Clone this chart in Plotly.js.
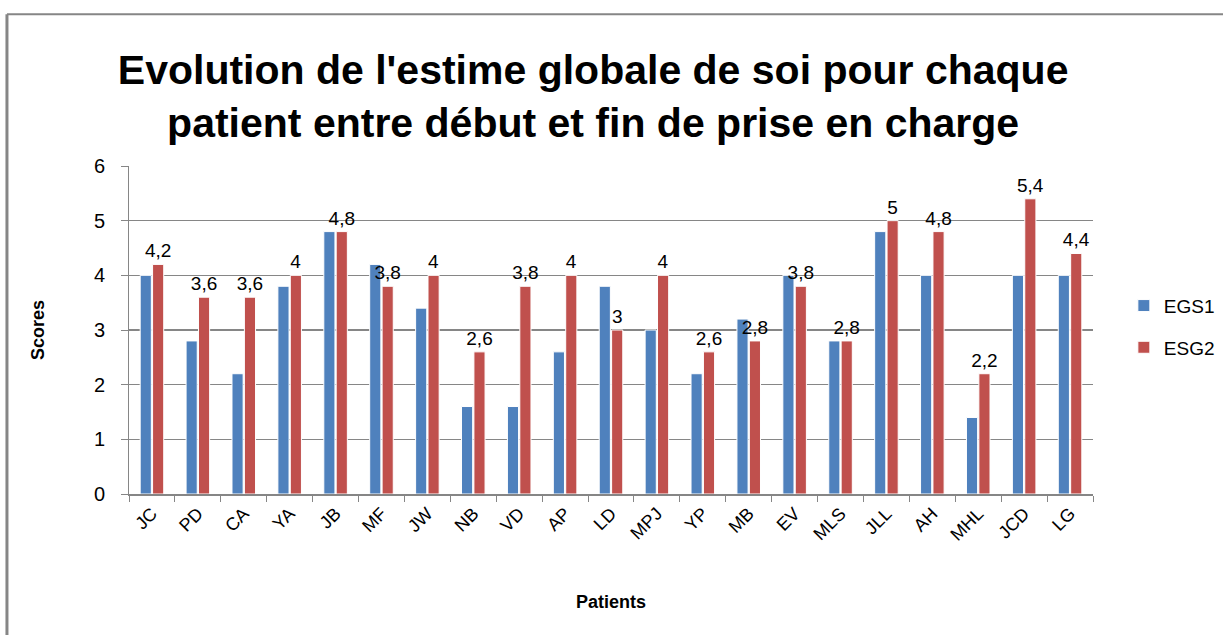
<!DOCTYPE html>
<html>
<head>
<meta charset="utf-8">
<script src="https://cdn.plot.ly/plotly-3.0.1.min.js"></script>
<style>html,body{margin:0;padding:0;background:#fff;}#chart{width:1223px;height:635px;}</style>
</head>
<body>
<div id="chart"></div>
<script>
const patients = ["JC","PD","CA","YA","JB","MF","JW","NB","VD","AP","LD","MPJ","YP","MB","EV","MLS","JLL","AH","MHL","JCD","LG"];
const egs1 = [4, 2.8, 2.2, 3.8, 4.8, 4.2, 3.4, 1.6, 1.6, 2.6, 3.8, 3, 2.2, 3.2, 4, 2.8, 4.8, 4, 1.4, 4, 4];
const esg2 = [4.2, 3.6, 3.6, 4, 4.8, 3.8, 4, 2.6, 3.8, 4, 3, 4, 2.6, 2.8, 3.8, 2.8, 5, 4.8, 2.2, 5.4, 4.4];
const seriesNames = ["EGS1", "ESG2"];
const yTicks = [0,1,2,3,4,5,6];

const FONT = "Liberation Sans, Arial, sans-serif";

const traces = [
  {
    type: "bar", name: seriesNames[0], x: patients, y: egs1,
    marker: {color: "#4F81BD", line: {color: "#ffffff", width: 1}},
    legendgroup: "a", hoverinfo: "x+y"
  },
  {
    type: "bar", name: seriesNames[1], x: patients, y: esg2,
    marker: {color: "#C0504D", line: {color: "#ffffff", width: 1}},
    text: esg2.map(v => String(v).replace(".", ",")),
    textposition: "outside", cliponaxis: false, constraintext: "none",
    textfont: {family: FONT, size: 19, color: "#000"},
    legendgroup: "b", hoverinfo: "x+y"
  }
];

const layout = {
  width: 1223, height: 635,
  margin: {l: 129, r: 130, t: 166, b: 141, pad: 0, autoexpand: false},
  paper_bgcolor: "#fff", plot_bgcolor: "#fff",
  font: {family: FONT, color: "#000"},
  title: {
    text: "Evolution de l'estime globale de soi pour chaque<br>patient entre début et fin de prise en charge",
    font: {family: FONT, size: 41, weight: "bold", color: "#000"},
    x: 0.485, xref: "container", xanchor: "center",
    y: 0.868, yref: "container", yanchor: "middle"
  },
  barmode: "group", bargap: 0.46, bargroupgap: 0.1,
  xaxis: {
    type: "category",
    tickangle: -45,
    tickfont: {family: FONT, size: 18, color: "#000"},
    ticks: "outside", tickson: "boundaries", ticklen: 6, tickcolor: "#868686",
    showline: true, linecolor: "#868686", linewidth: 2,
    showgrid: false,
    title: {text: "Patients", font: {family: FONT, size: 18, weight: "bold", color: "#000"}, standoff: 52}
  },
  yaxis: {
    range: [0, 6],
    tickvals: yTicks,
    tickfont: {family: FONT, size: 20, color: "#000"},
    ticks: "outside", ticklen: 7, tickcolor: "#868686",
    ticklabelstandoff: 12,
    showline: true, linecolor: "#868686", linewidth: 1,
    showgrid: true, gridcolor: "#868686", gridwidth: 1.5,
    zeroline: false,
    title: {text: "Scores", font: {family: FONT, size: 18, weight: "bold", color: "#000"}, standoff: 44}
  },
  legend: {
    x: 1.032, y: 0.51, xanchor: "left", yanchor: "middle",
    font: {family: FONT, size: 19, color: "#000"},
    traceorder: "grouped", tracegroupgap: 14,
    bgcolor: "rgba(0,0,0,0)"
  },
  shapes: [
    {type: "line", xref: "paper", yref: "paper", x0: -0.1266, x1: 1.17, y0: 1.463, y1: 1.463, line: {color: "#868686", width: 2}},
    {type: "line", xref: "paper", yref: "paper", x0: -0.1266, x1: -0.1266, y0: 1.463, y1: -0.43, line: {color: "#868686", width: 3}}
  ]
};

Plotly.newPlot("chart", traces, layout, {displayModeBar: false, staticPlot: true});
</script>
</body>
</html>
